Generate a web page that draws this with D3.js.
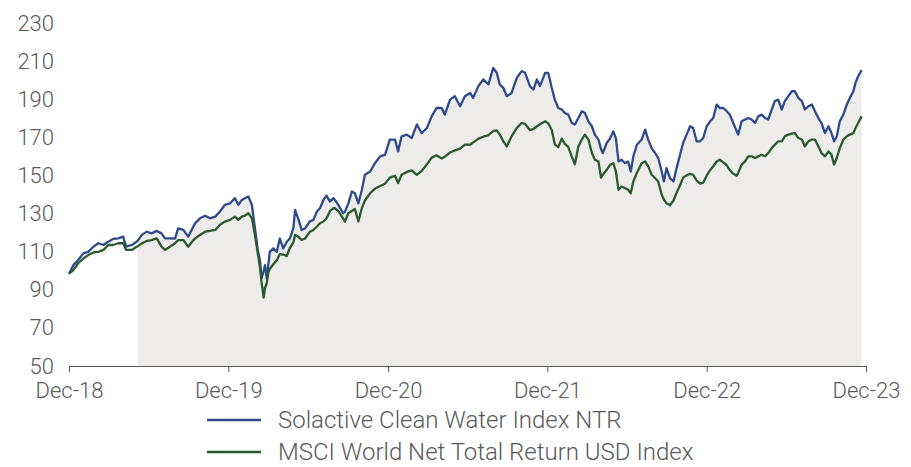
<!DOCTYPE html>
<html>
<head>
<meta charset="utf-8">
<script src="https://cdn.jsdelivr.net/npm/d3@7"></script>
<style>
  html, body { margin: 0; padding: 0; background: #fff; }
  svg { display: block; }
  svg text { font-family: Roboto, "Noto Sans", sans-serif; font-weight: 300; fill: #595959; }
  .axis path, .axis line { stroke: #595959; }
</style>
</head>
<body>
<div id="chart"></div>
<script>
// series (index level)
var dates = [
  "2018-12-31","2019-01-10","2019-01-21","2019-02-02","2019-02-13","2019-02-25","2019-03-08","2019-03-20","2019-03-31","2019-04-11",
  "2019-04-23","2019-05-04","2019-05-11","2019-05-24","2019-06-04","2019-06-07","2019-06-16","2019-06-27","2019-07-08","2019-07-20",
  "2019-07-31","2019-08-08","2019-08-19","2019-08-31","2019-09-07","2019-09-19","2019-09-30","2019-10-12","2019-10-16","2019-10-27",
  "2019-11-08","2019-11-19","2019-12-01","2019-12-12","2019-12-23","2020-01-04","2020-01-15","2020-01-23","2020-01-31","2020-02-07",
  "2020-02-15","2020-02-23","2020-03-01","2020-03-07","2020-03-13","2020-03-16","2020-03-21","2020-03-24","2020-03-28","2020-04-01",
  "2020-04-04","2020-04-12","2020-04-20","2020-04-27","2020-05-05","2020-05-13","2020-05-20","2020-05-28","2020-06-01","2020-06-08",
  "2020-06-16","2020-06-24","2020-07-05","2020-07-13","2020-07-21","2020-07-28","2020-08-05","2020-08-12","2020-08-20","2020-08-28",
  "2020-08-31","2020-09-08","2020-09-19","2020-09-23","2020-10-01","2020-10-09","2020-10-16","2020-10-24","2020-11-01","2020-11-08",
  "2020-11-20","2020-12-01","2020-12-13","2020-12-24","2021-01-04","2021-01-16","2021-01-23","2021-01-31","2021-02-12","2021-02-23",
  "2021-03-07","2021-03-18","2021-03-30","2021-04-10","2021-04-21","2021-05-03","2021-05-10","2021-05-22","2021-06-02","2021-06-14",
  "2021-06-25","2021-07-07","2021-07-14","2021-07-26","2021-08-06","2021-08-18","2021-08-29","2021-09-06","2021-09-13","2021-09-21",
  "2021-09-29","2021-10-10","2021-10-22","2021-11-02","2021-11-10","2021-11-21","2021-11-29","2021-12-07","2021-12-14","2021-12-26",
  "2022-01-02","2022-01-10","2022-01-17","2022-01-25","2022-02-02","2022-02-09","2022-02-17","2022-02-25","2022-03-04","2022-03-12",
  "2022-03-20","2022-03-27","2022-04-04","2022-04-12","2022-04-19","2022-04-27","2022-05-03","2022-05-07","2022-05-16","2022-05-24",
  "2022-05-31","2022-06-06","2022-06-12","2022-06-19","2022-06-27","2022-07-04","2022-07-10","2022-07-16","2022-07-24","2022-08-04",
  "2022-08-12","2022-08-19","2022-08-27","2022-09-04","2022-09-11","2022-09-19","2022-09-24","2022-09-30","2022-10-08","2022-10-16",
  "2022-10-23","2022-10-31","2022-11-07","2022-11-15","2022-11-23","2022-11-30","2022-12-08","2022-12-16","2022-12-23","2022-12-31",
  "2023-01-08","2023-01-15","2023-01-23","2023-01-30","2023-02-07","2023-02-15","2023-02-22","2023-03-02","2023-03-10","2023-03-13",
  "2023-03-21","2023-03-29","2023-04-05","2023-04-13","2023-04-21","2023-04-28","2023-05-06","2023-05-14","2023-05-21","2023-05-29",
  "2023-06-05","2023-06-13","2023-06-21","2023-06-28","2023-07-06","2023-07-14","2023-07-21","2023-07-29","2023-08-06","2023-08-13",
  "2023-08-21","2023-08-29","2023-09-05","2023-09-13","2023-09-20","2023-09-28","2023-10-06","2023-10-13","2023-10-19","2023-10-25",
  "2023-11-01","2023-11-09","2023-11-17","2023-11-24","2023-12-02","2023-12-07","2023-12-13","2023-12-21"
];

var cleanWater = [
  98.5,103,105.7,109.2,110,112.7,114.5,113.6,115.3,116.8,
  117.1,118,112.7,113.6,115.3,116,118.9,120.6,119.7,121,
  119.7,117.1,117.1,117,122.3,121.5,118,123.3,125,127.6,
  129,127.6,128.5,131.2,134.7,135.5,138.2,134.7,137.3,138.2,
  139.1,134.7,122.4,111.8,104.8,96,100,103,96,104,
  110,111.8,110,117,111.8,115.3,117,122.4,132,127.6,
  121.5,122.4,126,126.8,131.2,132.9,137.3,139.5,136.4,138.2,
  137.3,134.7,130.3,131,135.5,141.7,140.8,135.5,142.6,150.5,
  152.2,156.6,160.2,161,169,169,162.8,170.7,171.6,169.8,
  176.9,172.4,175.1,181.2,185.6,185.6,182.1,190,191.8,186.5,
  191.8,193.5,190.9,197.1,200.6,198,206.7,204.1,198,196.2,
  191.8,193.5,201.4,205,204.1,197.1,195.3,200.6,197.1,204.1,
  204.1,196.2,190,185.6,184.8,183,182.1,177.7,176.9,180.3,
  183.9,183,178.6,176,171.5,169,164,161.9,167.2,169.8,
  173.3,169.8,157.5,158.4,156.6,157.5,152.2,160.2,166.3,169,
  174.2,169,164.5,161.9,159.3,152.2,147,154,148.7,147,
  154,161,167.2,171.6,176,175.1,168.1,168.1,169.8,176,
  178.6,180.3,187.4,185.6,185.6,183.9,182.1,177.7,173.3,171.6,
  178.6,179.5,180.3,179.5,177.7,181.2,182.1,180.3,179.5,184.8,
  189.2,190,184.8,189.2,191.8,194.4,194.4,190.9,189.2,184.8,
  186.5,187.4,183.9,180.3,177.7,172.4,176,172.4,168.1,170.7,
  178.6,182.1,187.4,190.9,194.4,198.8,202.3,205.5
];

var msciWorld = [
  98.5,100.4,104,106.5,108.3,109.7,110,111,113.6,113.6,
  114.5,114.5,111,111,112.7,113,114.5,115.7,116.2,117.1,
  112.7,111,112.7,114.5,116.2,116.2,112.7,116.2,117,118.9,
  120.6,121,121.5,124.2,125.9,126.8,128.5,126.8,128.5,129,
  130.3,127.6,118.9,110,101.3,94.3,86,91,93.5,99.5,
  101,103.5,105.5,108.8,108.5,107.8,112,115,118.9,118,
  116.2,117,120.6,121.5,123.3,125,125.9,127.6,131.5,133,
  132.9,131.5,127.5,125.9,130.3,131.5,132.5,126,133,137,
  140.8,143.2,144.6,145.8,149,150,146.1,150.5,152,152.8,
  150.5,152.5,156,159.5,160.8,159,160,162.2,163.3,164.2,
  166.3,166.3,167.5,169.5,170.5,171.3,173.5,173.8,171.6,168.1,
  165.4,170.7,175.1,177.7,177.2,174,174.5,176,177,178.6,
  177.5,174,166.5,165,169.5,166.7,165,160,156,165.4,
  169,171.6,169,161.9,158.4,157.5,149,150.5,153.1,155.8,
  156.6,152.2,142.6,144.3,143.4,142.6,140.8,147,151.4,156.6,
  157.5,154.9,150.5,148.7,147,140,137.5,135.5,134.5,137,
  141,145,149,150.2,151,150.5,147.5,145.8,146.3,150,
  153,155,157.5,158.4,157,155.5,153,151,150,151.5,
  155.8,157.5,160.2,160.2,159.3,160.2,161,160.2,161.9,164.5,
  166.3,168.1,168.1,170.7,171.6,172.1,172.4,169.8,169,165.4,
  168.1,169,169,165.4,161.9,160.2,162.8,161,155.8,159.3,
  164.5,169,170.7,171.6,172.4,175.1,177.7,181.2
];

var seriesNames = ["Solactive Clean Water Index NTR", "MSCI World Net Total Return USD Index"];
var seriesColors = ["#2e4a8a", "#2a5a2c"];

var shadeStart = "2019-06-07"; // grey band behind the index from here on

var xTickDates = ["2018-12-31", "2019-12-31", "2020-12-31", "2021-12-31", "2022-12-31", "2023-12-31"];
var yTicks = [50, 70, 90, 110, 130, 150, 170, 190, 210, 230];

var parseDate = d3.timeParse("%Y-%m-%d");
var fmtTick = d3.timeFormat("%b-%y");

var W = 911, H = 467;
var margin = {top: 23.5, right: 45, bottom: 101, left: 69};
var fontStack = 'Roboto, "Noto Sans", sans-serif';

var rows = dates.map(function(d, i) {
  return {date: parseDate(d), a: cleanWater[i], b: msciWorld[i]};
});

var svg = d3.select("#chart").append("svg")
  .attr("width", W)
  .attr("height", H);

var x = d3.scaleTime()
  .domain([parseDate(xTickDates[0]), parseDate(xTickDates[xTickDates.length - 1])])
  .range([margin.left, W - margin.right]);

var y = d3.scaleLinear()
  .domain([50, 230])
  .range([H - margin.bottom, margin.top]);

// shaded area under the index
var start = parseDate(shadeStart);
var area = d3.area()
  .x(function(d) { return x(d.date); })
  .y0(y(50))
  .y1(function(d) { return y(d.a); });

svg.append("path")
  .datum(rows.filter(function(d) { return d.date >= start; }))
  .attr("fill", "#edeceb")
  .attr("d", area);

// lines
var lineA = d3.line().x(function(d) { return x(d.date); }).y(function(d) { return y(d.a); });
var lineB = d3.line().x(function(d) { return x(d.date); }).y(function(d) { return y(d.b); });

svg.append("path")
  .datum(rows)
  .attr("fill", "none")
  .attr("stroke", seriesColors[0])
  .attr("stroke-width", 2.3)
  .attr("stroke-linejoin", "round")
  .attr("d", lineA);

svg.append("path")
  .datum(rows)
  .attr("fill", "none")
  .attr("stroke", seriesColors[1])
  .attr("stroke-width", 2.3)
  .attr("stroke-linejoin", "round")
  .attr("d", lineB);

// axes
var xAxis = d3.axisBottom(x)
  .tickValues(xTickDates.map(parseDate))
  .tickFormat(fmtTick)
  .tickSize(6)
  .tickSizeOuter(0);

var gx = svg.append("g")
  .attr("class", "axis")
  .attr("transform", "translate(0," + y(50) + ")")
  .call(xAxis)
  .attr("font-family", fontStack);
gx.selectAll("text").attr("y", 16).style("font-size", "22px");

var yAxis = d3.axisLeft(y)
  .tickValues(yTicks)
  .tickSize(0)
  .tickPadding(0);

var gy = svg.append("g")
  .attr("class", "axis")
  .attr("transform", "translate(54,0)")
  .call(yAxis)
  .attr("font-family", fontStack);
gy.select(".domain").remove();
gy.selectAll("text").style("font-size", "22px");

// legend
var legend = svg.append("g")
  .selectAll("g")
  .data(seriesNames)
  .join("g")
  .attr("transform", function(d, i) { return "translate(207," + (420 + i * 32) + ")"; });

legend.append("line")
  .attr("x1", 0).attr("x2", 54)
  .attr("stroke", function(d, i) { return seriesColors[i]; })
  .attr("stroke-width", 2.5);

legend.append("text")
  .attr("x", 71)
  .attr("dy", "0.35em")
  .style("font-size", "24px")
  .text(function(d) { return d; });
</script>
</body>
</html>
